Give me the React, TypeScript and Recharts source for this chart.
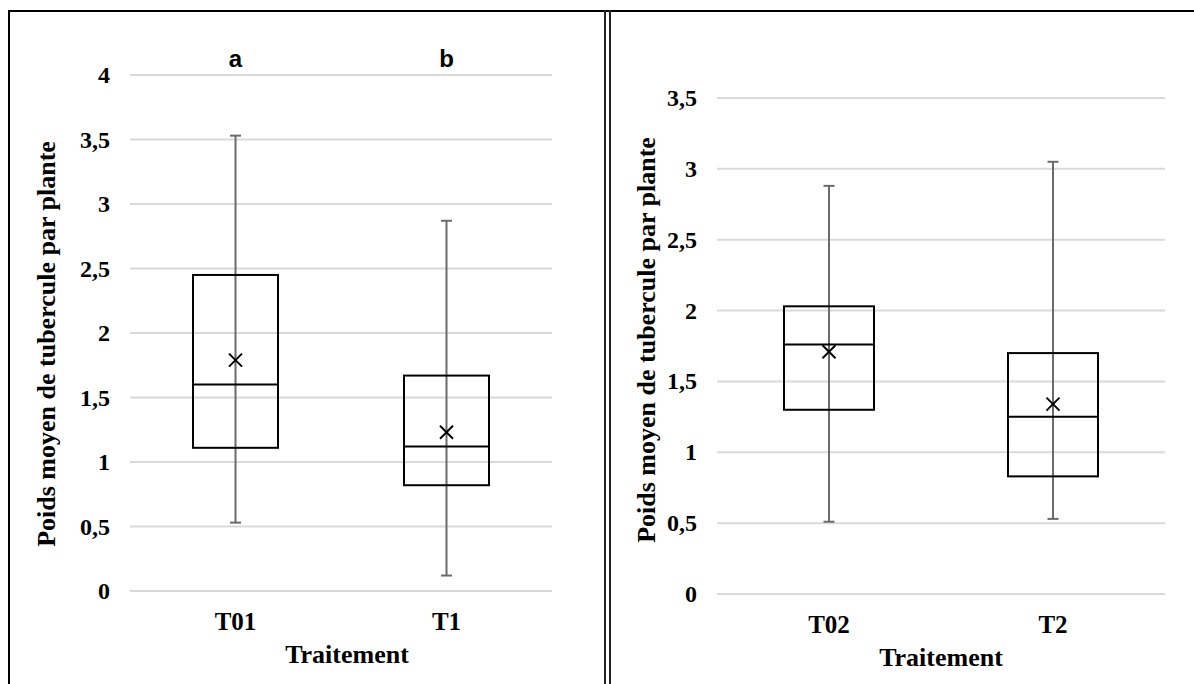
import React from 'react';
import { ComposedChart, Bar, XAxis, YAxis, CartesianGrid, Label } from 'recharts';

// ---------- Left panel data ----------
const leftCategories = ['T01', 'T1'];
const leftMin = [0.53, 0.12];
const leftQ1 = [1.11, 0.82];
const leftMedian = [1.6, 1.12];
const leftQ3 = [2.45, 1.67];
const leftMax = [3.53, 2.87];
const leftMean = [1.79, 1.23];
const leftLetters = ['a', 'b'];
const leftTicks = [0, 0.5, 1, 1.5, 2, 2.5, 3, 3.5, 4];

// ---------- Right panel data ----------
const rightCategories = ['T02', 'T2'];
const rightMin = [0.51, 0.53];
const rightQ1 = [1.3, 0.83];
const rightMedian = [1.76, 1.25];
const rightQ3 = [2.03, 1.7];
const rightMax = [2.88, 3.05];
const rightMean = [1.71, 1.34];
const rightLetters = ['', ''];
const rightTicks = [0, 0.5, 1, 1.5, 2, 2.5, 3, 3.5];

const xTitle = 'Traitement';
const yTitle = 'Poids moyen de tubercule par plante';

type Row = {
  cat: string; min: number; q1: number; median: number; q3: number; max: number; mean: number; letter: string; top: number;
};

const buildRows = (cats: string[], mn: number[], q1: number[], md: number[], q3: number[], mx: number[], mean: number[], letters: string[], top: number): Row[] =>
  cats.map((c, i) => ({ cat: c, min: mn[i], q1: q1[i], median: md[i], q3: q3[i], max: mx[i], mean: mean[i], letter: letters[i], top }));

const leftRows = buildRows(leftCategories, leftMin, leftQ1, leftMedian, leftQ3, leftMax, leftMean, leftLetters, 4);
const rightRows = buildRows(rightCategories, rightMin, rightQ1, rightMedian, rightQ3, rightMax, rightMean, rightLetters, 3.5);

const SERIF = "'Liberation Serif', 'Times New Roman', serif";
const SANS = "'Liberation Sans', Arial, sans-serif";
const fmt = (v: number) => String(v).replace('.', ',');

const BoxShape = (props: any) => {
  const { x, y, width, height, payload } = props;
  const p: Row = payload;
  const ppu = height / (p.max - p.min);
  const yOf = (v: number) => y + (p.max - v) * ppu;
  const cx = x + width / 2;
  const cap = 5.5;
  const mx = 6.5;
  const my = yOf(p.mean);
  return (
    <g>
      <line x1={cx} x2={cx} y1={yOf(p.max)} y2={yOf(p.min)} stroke="#6b6b6b" strokeWidth={2} />
      <line x1={cx - cap} x2={cx + cap} y1={yOf(p.max)} y2={yOf(p.max)} stroke="#6b6b6b" strokeWidth={2} />
      <line x1={cx - cap} x2={cx + cap} y1={yOf(p.min)} y2={yOf(p.min)} stroke="#6b6b6b" strokeWidth={2} />
      <rect x={x} y={yOf(p.q3)} width={width} height={yOf(p.q1) - yOf(p.q3)} fill="none" stroke="#000" strokeWidth={2} />
      <line x1={x} x2={x + width} y1={yOf(p.median)} y2={yOf(p.median)} stroke="#000" strokeWidth={2} />
      <line x1={cx - mx} x2={cx + mx} y1={my - mx} y2={my + mx} stroke="#000" strokeWidth={2} />
      <line x1={cx - mx} x2={cx + mx} y1={my + mx} y2={my - mx} stroke="#000" strokeWidth={2} />
      {p.letter ? (
        <text x={cx} y={yOf(p.top) - 8} textAnchor="middle" fontFamily={SANS} fontWeight="bold" fontSize={24} fill="#000">
          {p.letter}
        </text>
      ) : null}
    </g>
  );
};

const YTick = (props: any) => {
  const { x, y, payload } = props;
  return (
    <text x={x} y={y} textAnchor="end" dominantBaseline="central" fontFamily={SERIF} fontWeight="bold" fontSize={24} fill="#000">
      {fmt(payload.value)}
    </text>
  );
};

const XTick = (props: any) => {
  const { x, y, payload } = props;
  return (
    <text x={x} y={y + 39} textAnchor="middle" fontFamily={SERIF} fontWeight="bold" fontSize={25} fill="#000">
      {payload.value}
    </text>
  );
};

type PanelProps = {
  rows: Row[];
  ticks: number[];
  width: number;
  height: number;
  top: number;
  right: number;
  yAxisWidth: number;
  xAxisHeight: number;
  barSize: number;
  yTitleDx: number;
  yTitleDy: number;
  xTitleDx: number;
};

const Panel = (pp: PanelProps) => {
  const maxTick = pp.ticks[pp.ticks.length - 1];
  return (
    <ComposedChart
      width={pp.width}
      height={pp.height}
      data={pp.rows}
      margin={{ top: pp.top, right: pp.right, bottom: 0, left: 0 }}
    >
      <CartesianGrid vertical={false} stroke="#d9d9d9" strokeWidth={2} />
      <XAxis
        dataKey="cat"
        axisLine={false}
        tickLine={false}
        tickSize={0}
        tickMargin={0}
        height={pp.xAxisHeight}
        tick={<XTick />}
        interval={0}
      >
        <Label
          content={(lp: any) => {
            const vb = lp.viewBox;
            return (
              <text x={vb.x + vb.width / 2 + pp.xTitleDx} y={vb.y + 72} textAnchor="middle" fontFamily={SERIF} fontWeight="bold" fontSize={26} fill="#000">
                {xTitle}
              </text>
            );
          }}
        />
      </XAxis>
      <YAxis
        type="number"
        domain={[0, maxTick]}
        ticks={pp.ticks}
        interval={0}
        axisLine={false}
        tickLine={false}
        tickSize={0}
        tickMargin={20}
        width={pp.yAxisWidth}
        tick={<YTick />}
      >
        <Label
          content={(lp: any) => {
            const vb = lp.viewBox;
            const tx = vb.x + pp.yTitleDx;
            const ty = vb.y + vb.height / 2 + pp.yTitleDy;
            return (
              <text x={tx} y={ty} transform={`rotate(-90, ${tx}, ${ty})`} textAnchor="middle" dominantBaseline="central" fontFamily={SERIF} fontWeight="bold" fontSize={26} fill="#000">
                {yTitle}
              </text>
            );
          }}
        />
      </YAxis>
      <Bar
        dataKey={(d: Row) => [d.min, d.max]}
        barSize={pp.barSize}
        shape={<BoxShape />}
        isAnimationActive={false}
      />
    </ComposedChart>
  );
};

export default function App() {
  const line = (l: number, t: number, w: number, h: number, c = '#000') => (
    <div style={{ position: 'absolute', left: l, top: t, width: w, height: h, background: c, zIndex: 2 }} />
  );
  return (
    <div style={{ position: 'absolute', left: 0, top: 0, width: 1194, height: 684, background: '#fff', overflow: 'hidden' }}>
      <div style={{ position: 'absolute', left: 0, top: 0 }}>
        <Panel rows={leftRows} ticks={leftTicks} width={600} height={684} top={75} right={48} yAxisWidth={130} xAxisHeight={93} barSize={85} yTitleDx={46} yTitleDy={11} xTitleDx={6} />
      </div>
      <div style={{ position: 'absolute', left: 600, top: 0 }}>
        <Panel rows={rightRows} ticks={rightTicks} width={594} height={684} top={98} right={29} yAxisWidth={117} xAxisHeight={90} barSize={90} yTitleDx={46} yTitleDy={-6} xTitleDx={0} />
      </div>
      {line(8, 10, 1186, 2)}
      {line(8, 10, 2, 674)}
      {line(604, 10, 2, 674, '#222')}
      {line(609, 10, 2, 674, '#222')}
    </div>
  );
}
